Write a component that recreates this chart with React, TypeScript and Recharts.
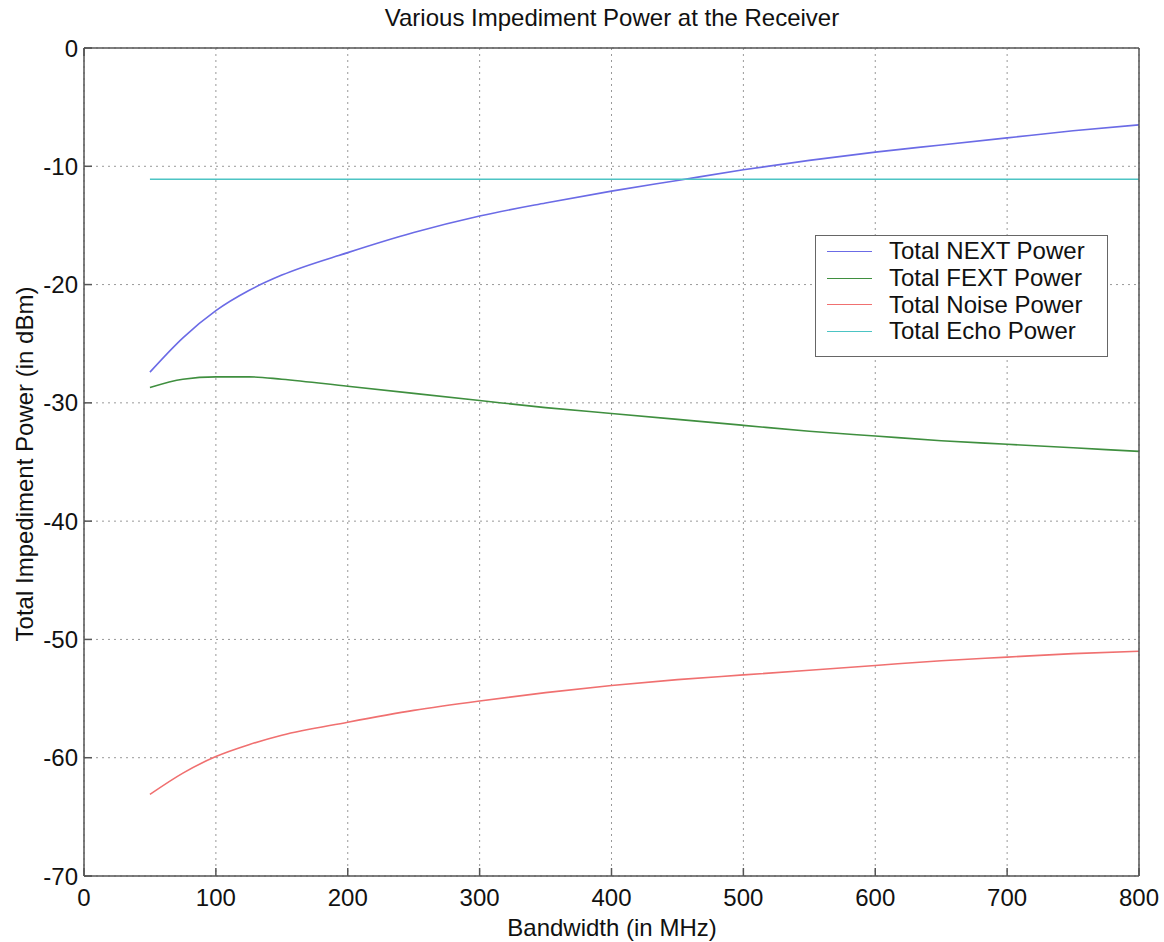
import { LineChart, Line, XAxis, YAxis, CartesianGrid } from 'recharts';

const FONT = '"Liberation Sans", Arial, Helvetica, sans-serif';

const bandwidth = [50, 75, 100, 125, 150, 200, 250, 300, 350, 400, 450, 500, 550, 600, 650, 700, 750, 800];
const nextPower = [-27.4, -24.5, -22.2, -20.5, -19.2, -17.3, -15.6, -14.2, -13.1, -12.1, -11.2, -10.3, -9.5, -8.8, -8.2, -7.6, -7.0, -6.5];
const fextPower = [-28.7, -28.0, -27.8, -27.8, -28.0, -28.6, -29.2, -29.8, -30.4, -30.9, -31.4, -31.9, -32.4, -32.8, -33.2, -33.5, -33.8, -34.1];
const noisePower = [-63.1, -61.3, -59.9, -58.9, -58.1, -57.0, -56.0, -55.2, -54.5, -53.9, -53.4, -53.0, -52.6, -52.2, -51.8, -51.5, -51.2, -51.0];
const echoPower = [-11.1, -11.1, -11.1, -11.1, -11.1, -11.1, -11.1, -11.1, -11.1, -11.1, -11.1, -11.1, -11.1, -11.1, -11.1, -11.1, -11.1, -11.1];

const xTicks = [0, 100, 200, 300, 400, 500, 600, 700, 800];
const yTicks = [-70, -60, -50, -40, -30, -20, -10, 0];

const series = [
  { key: 'next', name: 'Total NEXT Power', color: '#6b6be6' },
  { key: 'fext', name: 'Total FEXT Power', color: '#3f8f3f' },
  { key: 'noise', name: 'Total Noise Power', color: '#f07070' },
  { key: 'echo', name: 'Total Echo Power', color: '#4cc4c4' },
];

const data = bandwidth.map((bw, i) => ({
  bw,
  next: nextPower[i],
  fext: fextPower[i],
  noise: noisePower[i],
  echo: echoPower[i],
}));

const tickStyle = { fill: '#111', fontSize: 24, fontFamily: FONT };
const axisLine = { stroke: '#555', strokeWidth: 1.5 };

function LegendBox() {
  return (
    <div
      style={{
        position: 'absolute',
        left: 815,
        top: 235,
        border: '1.5px solid #666',
        background: '#fff',
        width: 293,
        height: 122,
        boxSizing: 'border-box',
        paddingTop: 2,
        fontFamily: FONT,
        fontSize: 24,
        color: '#111',
      }}
    >
      {series.map((s) => (
        <div key={s.key} style={{ display: 'flex', alignItems: 'center', height: 26.7 }}>
          <div style={{ width: 45, height: 0, borderTop: `1.5px solid ${s.color}`, marginLeft: 11, marginRight: 17 }} />
          <span style={{ whiteSpace: 'nowrap' }}>{s.name}</span>
        </div>
      ))}
    </div>
  );
}

export default function App() {
  return (
    <div style={{ position: 'absolute', left: 0, top: 0, width: 1164, height: 942, background: '#fff' }}>
      <LineChart width={1164} height={942} data={data} margin={{ top: 47, right: 24, bottom: 0, left: 0 }}>
        <CartesianGrid stroke="#999" strokeDasharray="2 4" />
        <XAxis
          dataKey="bw"
          type="number"
          domain={[0, 800]}
          ticks={xTicks}
          height={66}
          tick={tickStyle}
          tickSize={-8}
          tickMargin={21}
          axisLine={axisLine}
          tickLine={axisLine}
          label={() => (
            <g>
              <text x={612} y={936} textAnchor="middle" fontFamily={FONT} fontSize={24} fill="#111">
                Bandwidth (in MHz)
              </text>
              <text x={612} y={26} textAnchor="middle" fontFamily={FONT} fontSize={24} fill="#111">
                Various Impediment Power at the Receiver
              </text>
            </g>
          )}
        />
        <XAxis
          xAxisId="top"
          orientation="top"
          type="number"
          domain={[0, 800]}
          ticks={xTicks}
          height={1}
          tick={() => <g />}
          tickSize={-8}
          axisLine={axisLine}
          tickLine={axisLine}
        />
        <YAxis
          type="number"
          domain={[-70, 0]}
          ticks={yTicks}
          width={84}
          tick={tickStyle}
          tickSize={-8}
          tickMargin={14}
          axisLine={axisLine}
          tickLine={axisLine}
          label={() => (
            <text
              x={24}
              y={464}
              transform="rotate(-90 24 464)"
              textAnchor="middle"
              dominantBaseline="central"
              fontFamily={FONT}
              fontSize={24}
              fill="#111"
            >
              Total Impediment Power (in dBm)
            </text>
          )}
        />
        <YAxis
          yAxisId="right"
          orientation="right"
          type="number"
          domain={[-70, 0]}
          ticks={yTicks}
          width={1}
          tick={() => <g />}
          tickSize={-8}
          axisLine={axisLine}
          tickLine={axisLine}
        />
        {series.map((s) => (
          <Line
            key={s.key}
            type="monotone"
            dataKey={s.key}
            name={s.name}
            stroke={s.color}
            strokeWidth={1.6}
            dot={false}
            isAnimationActive={false}
          />
        ))}
      </LineChart>
      <LegendBox />
    </div>
  );
}
